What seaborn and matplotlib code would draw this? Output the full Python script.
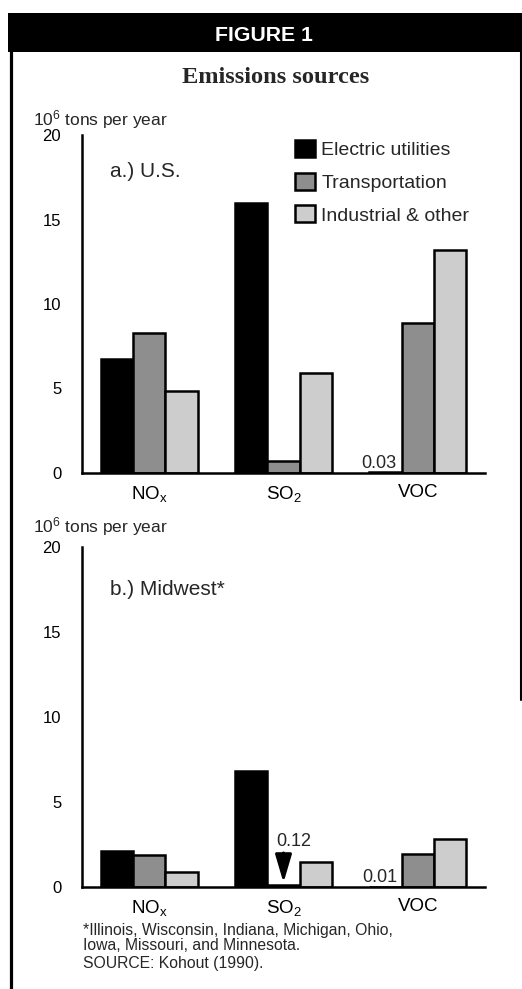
import numpy as np
import pandas as pd
import matplotlib
matplotlib.use("Agg")
import matplotlib.pyplot as plt
import matplotlib.patches as mpatches
from matplotlib.lines import Line2D
import seaborn as sns

# ---------------- data ----------------
pollutants = ["NOx", "SO2", "VOC"]
pollutant_labels = ["NO$_{\\mathrm{x}}$", "SO$_{\\mathrm{2}}$", "VOC"]
sources = ["Electric utilities", "Transportation", "Industrial & other"]
source_colors = ["#000000", "#8e8e8e", "#cdcdcd"]

us_electric = [6.75, 16.0, 0.03]
us_transport = [8.3, 0.7, 8.9]
us_industrial = [4.85, 5.9, 13.2]

mw_electric = [2.1, 6.8, 0.01]
mw_transport = [1.9, 0.12, 1.95]
mw_industrial = [0.9, 1.5, 2.8]

yticks = [0, 5, 10, 15, 20]

# ---------------- style ----------------
sns.set_style("white")
plt.rcParams["font.family"] = ["Liberation Sans", "DejaVu Sans"]
plt.rcParams["mathtext.fontset"] = "custom"
plt.rcParams["mathtext.rm"] = "Liberation Sans"
plt.rcParams["mathtext.it"] = "Liberation Sans:italic"
plt.rcParams["mathtext.bf"] = "Liberation Sans:bold"

W, H = 522, 989
fig = plt.figure(figsize=(W / 100, H / 100), dpi=100)
fig.patch.set_facecolor("white")


def fx(px):
    return px / W


def fy(py):
    return 1 - py / H


def make_df(e, t, i):
    return pd.DataFrame({
        "pollutant": pollutants * 3,
        "source": [sources[0]] * 3 + [sources[1]] * 3 + [sources[2]] * 3,
        "value": list(e) + list(t) + list(i),
    })


def draw_panel(ax, df):
    sns.barplot(data=df, x="pollutant", y="value", hue="source",
                order=pollutants, hue_order=sources, palette=source_colors,
                saturation=1, width=0.72, edgecolor="black", linewidth=1.8,
                legend=False, ax=ax)
    ax.set_xlim(-0.5, 2.5)
    ax.set_ylim(0, 20)
    ax.set_yticks(yticks)
    ax.set_yticklabels([str(v) for v in yticks])
    ax.set_xticks([0, 1, 2])
    ax.set_xticklabels(pollutant_labels)
    ax.set_xticks([0.5, 1.5, 2.5], minor=True)
    ax.tick_params(axis="y", direction="in", length=7, width=1.8,
                   pad=15, labelsize=12, colors="black")
    ax.tick_params(axis="x", which="major", length=0, pad=8,
                   labelsize=13.5, colors="black")
    ax.tick_params(axis="x", which="minor", direction="in", length=7,
                   width=1.5, color="black")
    for s in ["top", "right"]:
        ax.spines[s].set_visible(False)
    for s in ["left", "bottom"]:
        ax.spines[s].set_linewidth(1.8)
        ax.spines[s].set_color("black")
    ax.set_xlabel("")
    ax.set_ylabel("")
    ax.set_facecolor("white")


# panel a
ax1 = fig.add_axes([fx(82), fy(473), fx(485) - fx(82), fy(135) - fy(473)])
draw_panel(ax1, make_df(us_electric, us_transport, us_industrial))
ax1.text(0.069, 0.876, "a.) U.S.", transform=ax1.transAxes,
         fontsize=15, ha="left", va="baseline")
ax1.text(1.71, 0.3, "0.03", fontsize=13, ha="center", va="baseline")
handles = [mpatches.Patch(facecolor=c, edgecolor="black", linewidth=1.8)
           for c in source_colors]
ax1.legend(handles, sources, loc="upper left",
           bbox_to_anchor=((295 - 82) / 403, 0.985), frameon=False,
           fontsize=14, handlelength=1.05, handleheight=0.95,
           handletextpad=0.3, labelspacing=0.7, borderpad=0,
           borderaxespad=0)

# panel b
ax2 = fig.add_axes([fx(82), fy(887), fx(485) - fx(82), fy(547) - fy(887)])
draw_panel(ax2, make_df(mw_electric, mw_transport, mw_industrial))
ax2.text(0.069, (887 - 595) / 340, "b.) Midwest*", transform=ax2.transAxes,
         fontsize=15, ha="left", va="baseline")
ax2.text(1.72, 0.3, "0.01", fontsize=13, ha="center", va="baseline")
ax2.text(1.08, 2.15, "0.12", fontsize=13, ha="center", va="bottom")
ax2.annotate("", xy=(1.0, 0.25), xytext=(1.0, 2.0),
             arrowprops=dict(arrowstyle="-|>,head_length=1.7,head_width=0.5",
                             lw=2.2, color="black", shrinkA=0, shrinkB=0,
                             mutation_scale=10))

# y-axis unit labels
for yb in (125, 532):
    fig.text(fx(33), fy(yb), "10$^{\\mathrm{6}}$ tons per year", fontsize=12.5,
             ha="left", va="baseline")

# header band
fig.patches.append(mpatches.Rectangle((fx(8), fy(52)), 1 - fx(8), fy(13) - fy(52),
                                      transform=fig.transFigure,
                                      facecolor="black", edgecolor="none"))
fig.text(fx(264), fy(41), "FIGURE 1", color="white", fontsize=15.3,
         fontweight="bold", ha="center", va="baseline")
fig.text(fx(276), fy(83), "Emissions sources", fontsize=17.6,
         fontweight="bold", family=["Liberation Serif", "DejaVu Serif"],
         ha="center", va="baseline")

# box borders
fig.lines.append(Line2D([fx(11), fx(11)], [fy(50), 0], transform=fig.transFigure,
                        color="black", lw=2.3))
fig.lines.append(Line2D([fx(520.5), fx(520.5)], [fy(50), fy(700)],
                        transform=fig.transFigure, color="black", lw=1.5))

# footnotes
fig.text(fx(83), fy(935), "*Illinois, Wisconsin, Indiana, Michigan, Ohio,",
         fontsize=11.3, ha="left", va="baseline")
fig.text(fx(83), fy(950), "Iowa, Missouri, and Minnesota.",
         fontsize=11.3, ha="left", va="baseline")
fig.text(fx(83), fy(968), "SOURCE: Kohout (1990).",
         fontsize=11.3, ha="left", va="baseline")

fig.savefig("out.png", dpi=100, facecolor="white")
